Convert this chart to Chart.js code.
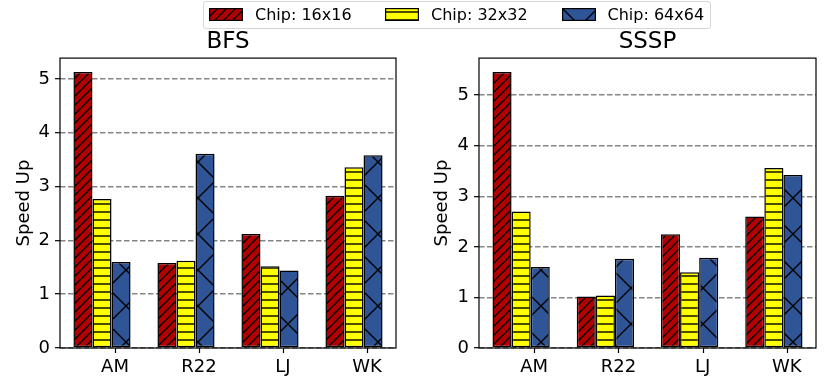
<!DOCTYPE html>
<html>
<head>
<meta charset="utf-8">
<script src="https://cdn.jsdelivr.net/npm/chart.js@4/dist/chart.umd.min.js"></script>
<style>
  body { margin: 0; background: #fff; font-family: "DejaVu Sans", sans-serif; }
  #wrap { position: relative; width: 830px; height: 391px; overflow: hidden; }
  canvas.panel { position: absolute; top: 0; }
  #legend {
    position: absolute; left: 203px; top: 1px; width: 506px; height: 26px;
    border: 1px solid #d6d6d6; border-radius: 3px; background: #fff;
  }
  .item { position: absolute; top: 0; height: 26px; line-height: 26px; font-size: 16px; color: #000; white-space: nowrap; }
  .item canvas { position: absolute; top: 6px; }
  .item span { position: absolute; top: 0; }
</style>
</head>
<body>
<div id="wrap">
  <canvas id="bfsCanvas" class="panel" width="415" height="391" style="left:0"></canvas>
  <canvas id="ssspCanvas" class="panel" width="415" height="391" style="left:415px"></canvas>
  <div id="legend"></div>
</div>
<script>
// data
const categories = ['AM', 'R22', 'LJ', 'WK'];
const seriesNames = ['Chip: 16x16', 'Chip: 32x32', 'Chip: 64x64'];

const bfs16 = [5.13, 1.58, 2.12, 2.83];
const bfs32 = [2.77, 1.62, 1.52, 3.36];
const bfs64 = [1.60, 3.61, 1.44, 3.58];

const sssp16 = [5.46, 1.02, 2.25, 2.60];
const sssp32 = [2.70, 1.04, 1.50, 3.56];
const sssp64 = [1.60, 1.765, 1.785, 3.42];

const yTicks = [0, 1, 2, 3, 4, 5];

const SERIES_STYLE = [
    { color: '#b20000', hatch: 'diag' },
    { color: '#ffff00', hatch: 'horiz' },
    { color: '#2f5597', hatch: 'cross' }
];
const FONT = '"DejaVu Sans", sans-serif';
const TICK_SHIFT = 13;

// hatch tiles like matplotlib's '//', '-', 'x'
function makeTile(bg, kind) {
    const size = kind === 'diag' ? 9 : kind === 'horiz' ? 8 : 36;
    const c = document.createElement('canvas');
    c.width = size; c.height = size;
    const g = c.getContext('2d');
    g.fillStyle = bg;
    g.fillRect(0, 0, size, size);
    g.strokeStyle = '#000';
    g.lineWidth = 1.4;
    g.beginPath();
    if (kind === 'horiz') {
        g.moveTo(0, 4); g.lineTo(size, 4);
    } else {
        [-size, 0, size].forEach(o => {
            g.moveTo(o, size); g.lineTo(o + size, 0);
            if (kind === 'cross') { g.moveTo(o, 0); g.lineTo(o + size, size); }
        });
    }
    g.stroke();
    return c;
}

function hatchFor(i, ctx) {
    const s = SERIES_STYLE[i];
    return ctx.createPattern(makeTile(s.color, s.hatch), 'repeat');
}

// frame around plot + shifted x tick marks
const framePlugin = {
    id: 'frame',
    afterDraw(chart) {
        const { ctx, chartArea, scales } = chart;
        ctx.save();
        ctx.strokeStyle = '#000';
        ctx.lineWidth = 1.2;
        ctx.beginPath();
        scales.x.ticks.forEach((t, i) => {
            const px = Math.round(scales.x.getPixelForTick(i) + TICK_SHIFT) + 0.5;
            ctx.moveTo(px, chartArea.bottom);
            ctx.lineTo(px, chartArea.bottom + 5);
        });
        ctx.stroke();
        ctx.strokeRect(chartArea.left, chartArea.top, chartArea.right - chartArea.left, chartArea.bottom - chartArea.top);
        ctx.restore();
    }
};

function makePanel(canvasId, title, values, yWidth, padRight, titlePad) {
    const ctx = document.getElementById(canvasId).getContext('2d');
    const top = Math.max(...values.flat()) * 1.05;
    return new Chart(ctx, {
        type: 'bar',
        data: {
            labels: categories,
            datasets: seriesNames.map((label, i) => ({
                label,
                data: values[i],
                backgroundColor: hatchFor(i, ctx),
                borderColor: '#000',
                borderWidth: 1.5,
                borderSkipped: false,
                categoryPercentage: 0.68,
                barPercentage: 1.0
            }))
        },
        options: {
            responsive: false,
            animation: false,
            devicePixelRatio: 1,
            layout: { padding: { left: 0, right: padRight, top: 28, bottom: 0 } },
            scales: {
                x: {
                    grid: { display: false },
                    border: { display: false },
                    ticks: { color: '#000', font: { family: FONT, size: 18 }, padding: 1, labelOffset: TICK_SHIFT },
                    afterFit(scale) { scale.height = 43; }
                },
                y: {
                    min: 0,
                    max: top,
                    z: 1,
                    afterBuildTicks(scale) { scale.ticks = yTicks.map(v => ({ value: v })); },
                    afterFit(scale) { scale.width = yWidth; },
                    border: { display: false, dash: [5.5, 2.5] },
                    grid: {
                        color: '#858585',
                        lineWidth: 1.4,
                        drawTicks: true,
                        tickLength: 5,
                        tickColor: '#000',
                        tickWidth: 1.2,
                        tickBorderDash: []
                    },
                    ticks: { color: '#000', font: { family: FONT, size: 18 }, padding: 5 },
                    title: {
                        display: true,
                        text: 'Speed Up',
                        color: '#000',
                        font: { family: FONT, size: 18 },
                        padding: { top: titlePad, bottom: 0 }
                    }
                }
            },
            plugins: {
                legend: { display: false },
                tooltip: { enabled: false },
                title: {
                    display: true,
                    text: title,
                    fullSize: false,
                    color: '#000',
                    font: { family: FONT, size: 23, weight: 'normal' },
                    padding: { top: 0, bottom: 2.5 }
                }
            }
        },
        plugins: [framePlugin]
    });
}

makePanel('bfsCanvas', 'BFS', [bfs16, bfs32, bfs64], 60, 19, 14);
makePanel('ssspCanvas', 'SSSP', [sssp16, sssp32, sssp64], 64, 14, 16.5);

// shared legend on top of both panels
const legendPos = [{ sw: 4.5, tx: 51 }, { sw: 181, tx: 227 }, { sw: 357.5, tx: 403.5 }];
const legendEl = document.getElementById('legend');
seriesNames.forEach((name, i) => {
    const item = document.createElement('div');
    item.className = 'item';
    item.style.left = '0px';
    const sw = document.createElement('canvas');
    sw.width = 34; sw.height = 13;
    sw.style.left = legendPos[i].sw + 'px';
    const g = sw.getContext('2d');
    g.fillStyle = g.createPattern(makeTile(SERIES_STYLE[i].color, SERIES_STYLE[i].hatch), 'repeat');
    g.fillRect(0, 0, 34, 13);
    g.strokeStyle = '#000';
    g.lineWidth = 1.2;
    g.strokeRect(0.6, 0.6, 32.8, 11.8);
    const txt = document.createElement('span');
    txt.textContent = name;
    txt.style.left = legendPos[i].tx + 'px';
    item.appendChild(sw);
    item.appendChild(txt);
    legendEl.appendChild(item);
});
</script>
</body>
</html>
